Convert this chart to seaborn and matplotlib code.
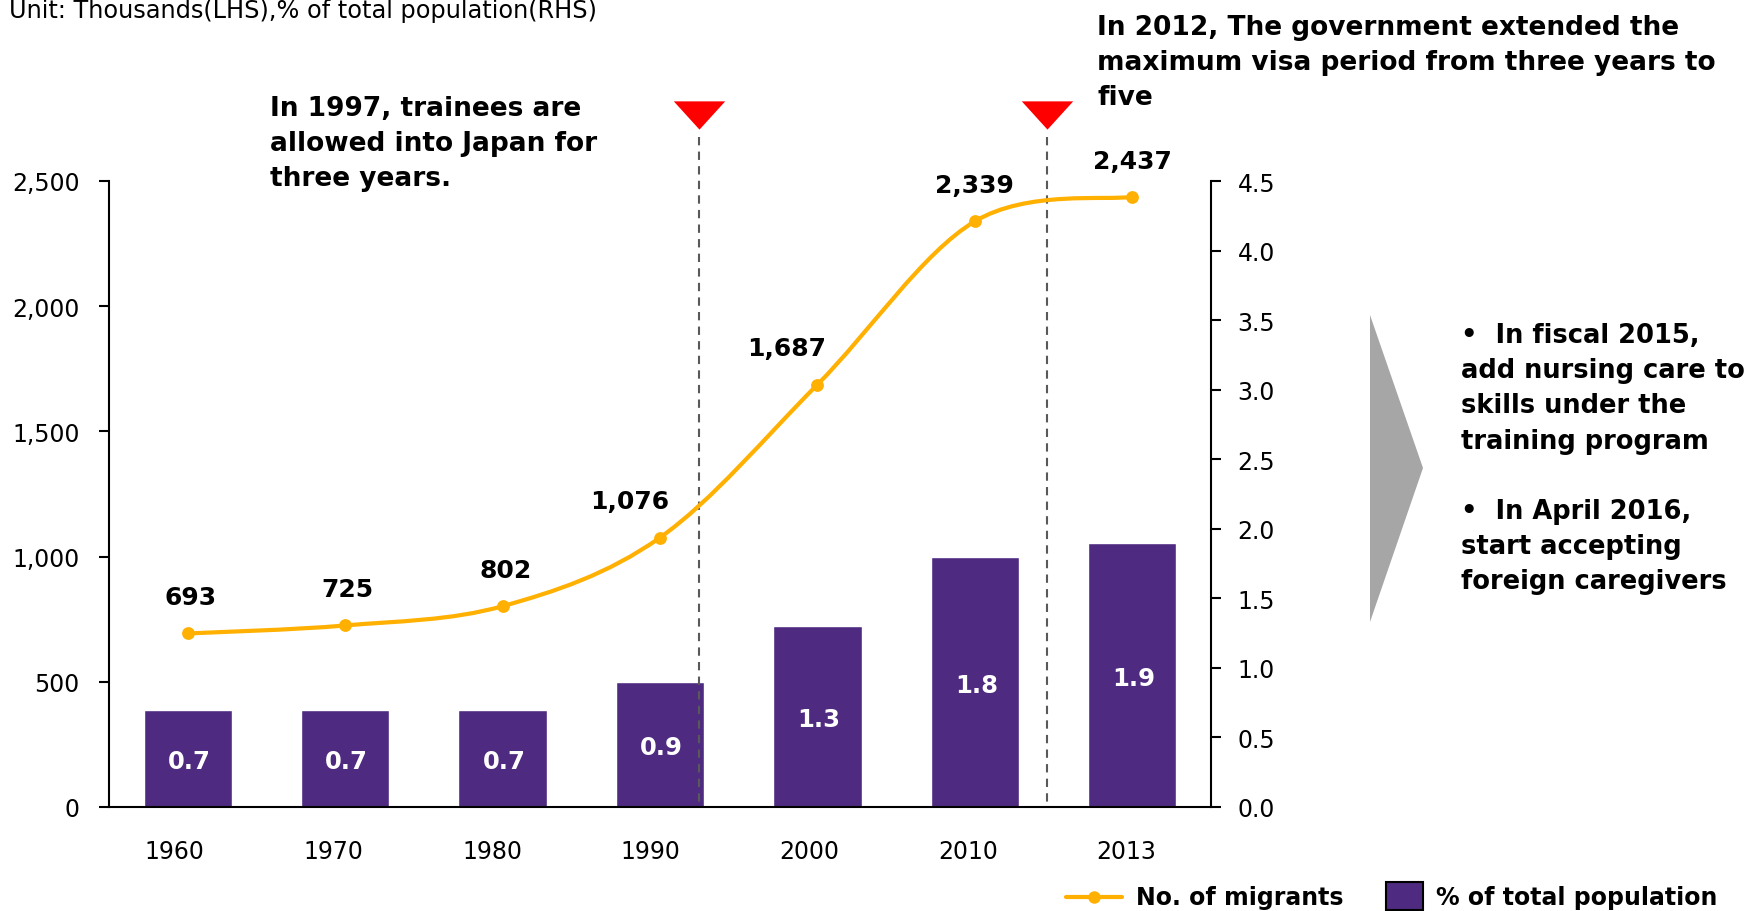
import numpy as np
import matplotlib
matplotlib.use("Agg")
import matplotlib.pyplot as plt
import seaborn as sns
from matplotlib.path import Path
from matplotlib.patches import PathPatch, Polygon, Rectangle
from matplotlib.lines import Line2D
from matplotlib.ticker import FuncFormatter
import matplotlib.transforms as mtransforms

# data
years = ['1960', '1970', '1980', '1990', '2000', '2010', '2013']
migrants = [693, 725, 802, 1076, 1687, 2339, 2437]          # thousands (LHS)
pct_pop = [0.7, 0.7, 0.7, 0.9, 1.3, 1.8, 1.9]               # % of total population (RHS)
label_dx = [2, 2, 2, -22, -22, 0, 0]                         # label nudges, points
event_x = [3.25, 5.46]                                      # marker positions between categories

ORANGE = '#FFB000'
PURPLE = '#4E2A80'
W, H = 1750, 912

sns.set_style('white')
plt.rcParams['font.family'] = ['DejaVu Sans']
plt.rcParams['text.color'] = 'black'
plt.rcParams['xtick.color'] = 'black'
plt.rcParams['ytick.color'] = 'black'

fig = plt.figure(figsize=(W / 100, H / 100), dpi=100)

def fx(px):
    return px / W

def fy(py):
    return 1 - py / H

ax = fig.add_axes([fx(109), fy(808), (1211 - 109) / W, (808 - 182) / H])

# bars (% of total population) on the base axes, ticks on the right
sns.barplot(x=years, y=pct_pop, color=PURPLE, saturation=1, width=0.56, ax=ax)
ax2 = ax.twinx()
ax.yaxis.tick_right()
ax2.yaxis.tick_left()

ax.set_ylim(0, 4.5)
ax.set_yticks(np.arange(0, 4.51, 0.5))
ax.yaxis.set_major_formatter(FuncFormatter(lambda v, p: f'{v:.1f}'))
for i, p in enumerate(pct_pop):
    ax.text(i + 0.01, p / 2 - 0.02, f'{p:.1f}', color='white', ha='center', va='center',
            fontsize=17.5, fontweight='bold')

# smoothed line (Excel-style bezier through the data points)
pts = np.column_stack([np.arange(len(migrants)), migrants]).astype(float)
n = len(pts)
verts = [pts[0]]
codes = [Path.MOVETO]
for i in range(n - 1):
    p0 = pts[i - 1] if i > 0 else pts[i]
    p1 = pts[i]
    p2 = pts[i + 1]
    p3 = pts[i + 2] if i + 2 < n else pts[i + 1]
    verts += [p1 + (p2 - p0) / 6, p2 - (p3 - p1) / 6, p2]
    codes += [Path.CURVE4] * 3
ax2.add_patch(PathPatch(Path(verts, codes), fill=False, edgecolor=ORANGE,
                        lw=3, capstyle='round', zorder=2))
sns.scatterplot(x=np.arange(n), y=migrants, color=ORANGE, s=85, linewidth=0,
                ax=ax2, zorder=3)
for i, m in enumerate(migrants):
    ax2.annotate(f'{m:,}', (i, m), xytext=(label_dx[i], 26), textcoords='offset points',
                 ha='center', va='center', fontsize=18, fontweight='bold')

ax2.set_ylim(0, 2500)
ax2.set_yticks(range(0, 2501, 500))
ax2.yaxis.set_major_formatter(FuncFormatter(lambda v, p: f'{int(v):,}'))
ax.set_xlim(-0.5, 6.5)
ax2.set_xlim(-0.5, 6.5)
ax.set_xlabel('')
ax.set_ylabel('')
ax2.set_ylabel('')

for a in (ax, ax2):
    for s in a.spines.values():
        s.set_linewidth(1.5)
        s.set_color('black')
    a.spines['top'].set_visible(False)
for s in ax2.spines.values():
    s.set_visible(False)

ax2.tick_params(axis='y', direction='out', length=7, width=1.5, pad=14, labelsize=17)
ax.tick_params(axis='y', direction='out', length=7, width=1.5, pad=12, labelsize=17)
ax.tick_params(axis='x', length=0, pad=23, labelsize=17)
# Excel drifts category labels slightly left, more so on the left side
for k, lbl in enumerate(ax.get_xticklabels()):
    dx = -(13 - k * 1.2) / 100
    lbl.set_transform(lbl.get_transform() + mtransforms.ScaledTranslation(dx, 0, fig.dpi_scale_trans))

# event markers: dashed verticals with red triangles
blend = mtransforms.blended_transform_factory(ax.transData, fig.transFigure)
tri = [(-1, 0.55), (1, 0.55), (0, -0.55)]
for x in event_x:
    ax.add_line(Line2D([x, x], [fy(138), fy(808)], transform=blend, color='#595959',
                       lw=1.5, ls=(0, (4, 3)), clip_on=False, zorder=1))
    ax.add_line(Line2D([x], [fy(116)], transform=blend, marker=tri, markersize=37,
                       color='#FF0000', markeredgewidth=0, clip_on=False, zorder=5))

# texts
fig.text(fx(9), fy(18), 'Unit: Thousands(LHS),% of total population(RHS)',
         fontsize=17.3, va='baseline', ha='left')
fig.text(fx(270), fy(96), 'In 1997, trainees are\nallowed into Japan for\nthree years.',
         fontsize=19, fontweight='bold', va='top', ha='left', linespacing=1.44)
fig.text(fx(1097), fy(15), 'In 2012, The government extended the\n'
         'maximum visa period from three years to\nfive',
         fontsize=19, fontweight='bold', va='top', ha='left', linespacing=1.44)
fig.text(fx(1461), fy(323), '•  In fiscal 2015,\nadd nursing care to\nskills under the\n'
         'training program\n\n•  In April 2016,\nstart accepting\nforeign caregivers',
         fontsize=18.5, fontweight='bold', va='top', ha='left', linespacing=1.46)

# grey arrow
fig.add_artist(Polygon([(fx(1370), fy(316)), (fx(1423), fy(469)), (fx(1370), fy(623))],
                       closed=True, transform=fig.transFigure, color='#A6A6A6', lw=0))

# legend
ly = fy(898)
fig.add_artist(Line2D([fx(1066), fx(1122)], [ly, ly], transform=fig.transFigure,
                      color=ORANGE, lw=3))
fig.add_artist(Line2D([fx(1094)], [ly], transform=fig.transFigure, color=ORANGE,
                      marker='o', markersize=9, markeredgewidth=0))
fig.text(fx(1136), ly, 'No. of migrants', fontsize=17, fontweight='bold', va='center')
fig.add_artist(Rectangle((fx(1386), fy(911)), fx(37), 28 / H, transform=fig.transFigure,
                         facecolor=PURPLE, edgecolor='black', lw=1.5))
fig.text(fx(1436), ly, '% of total population', fontsize=17, fontweight='bold', va='center')

fig.savefig('out.png', dpi=100)
